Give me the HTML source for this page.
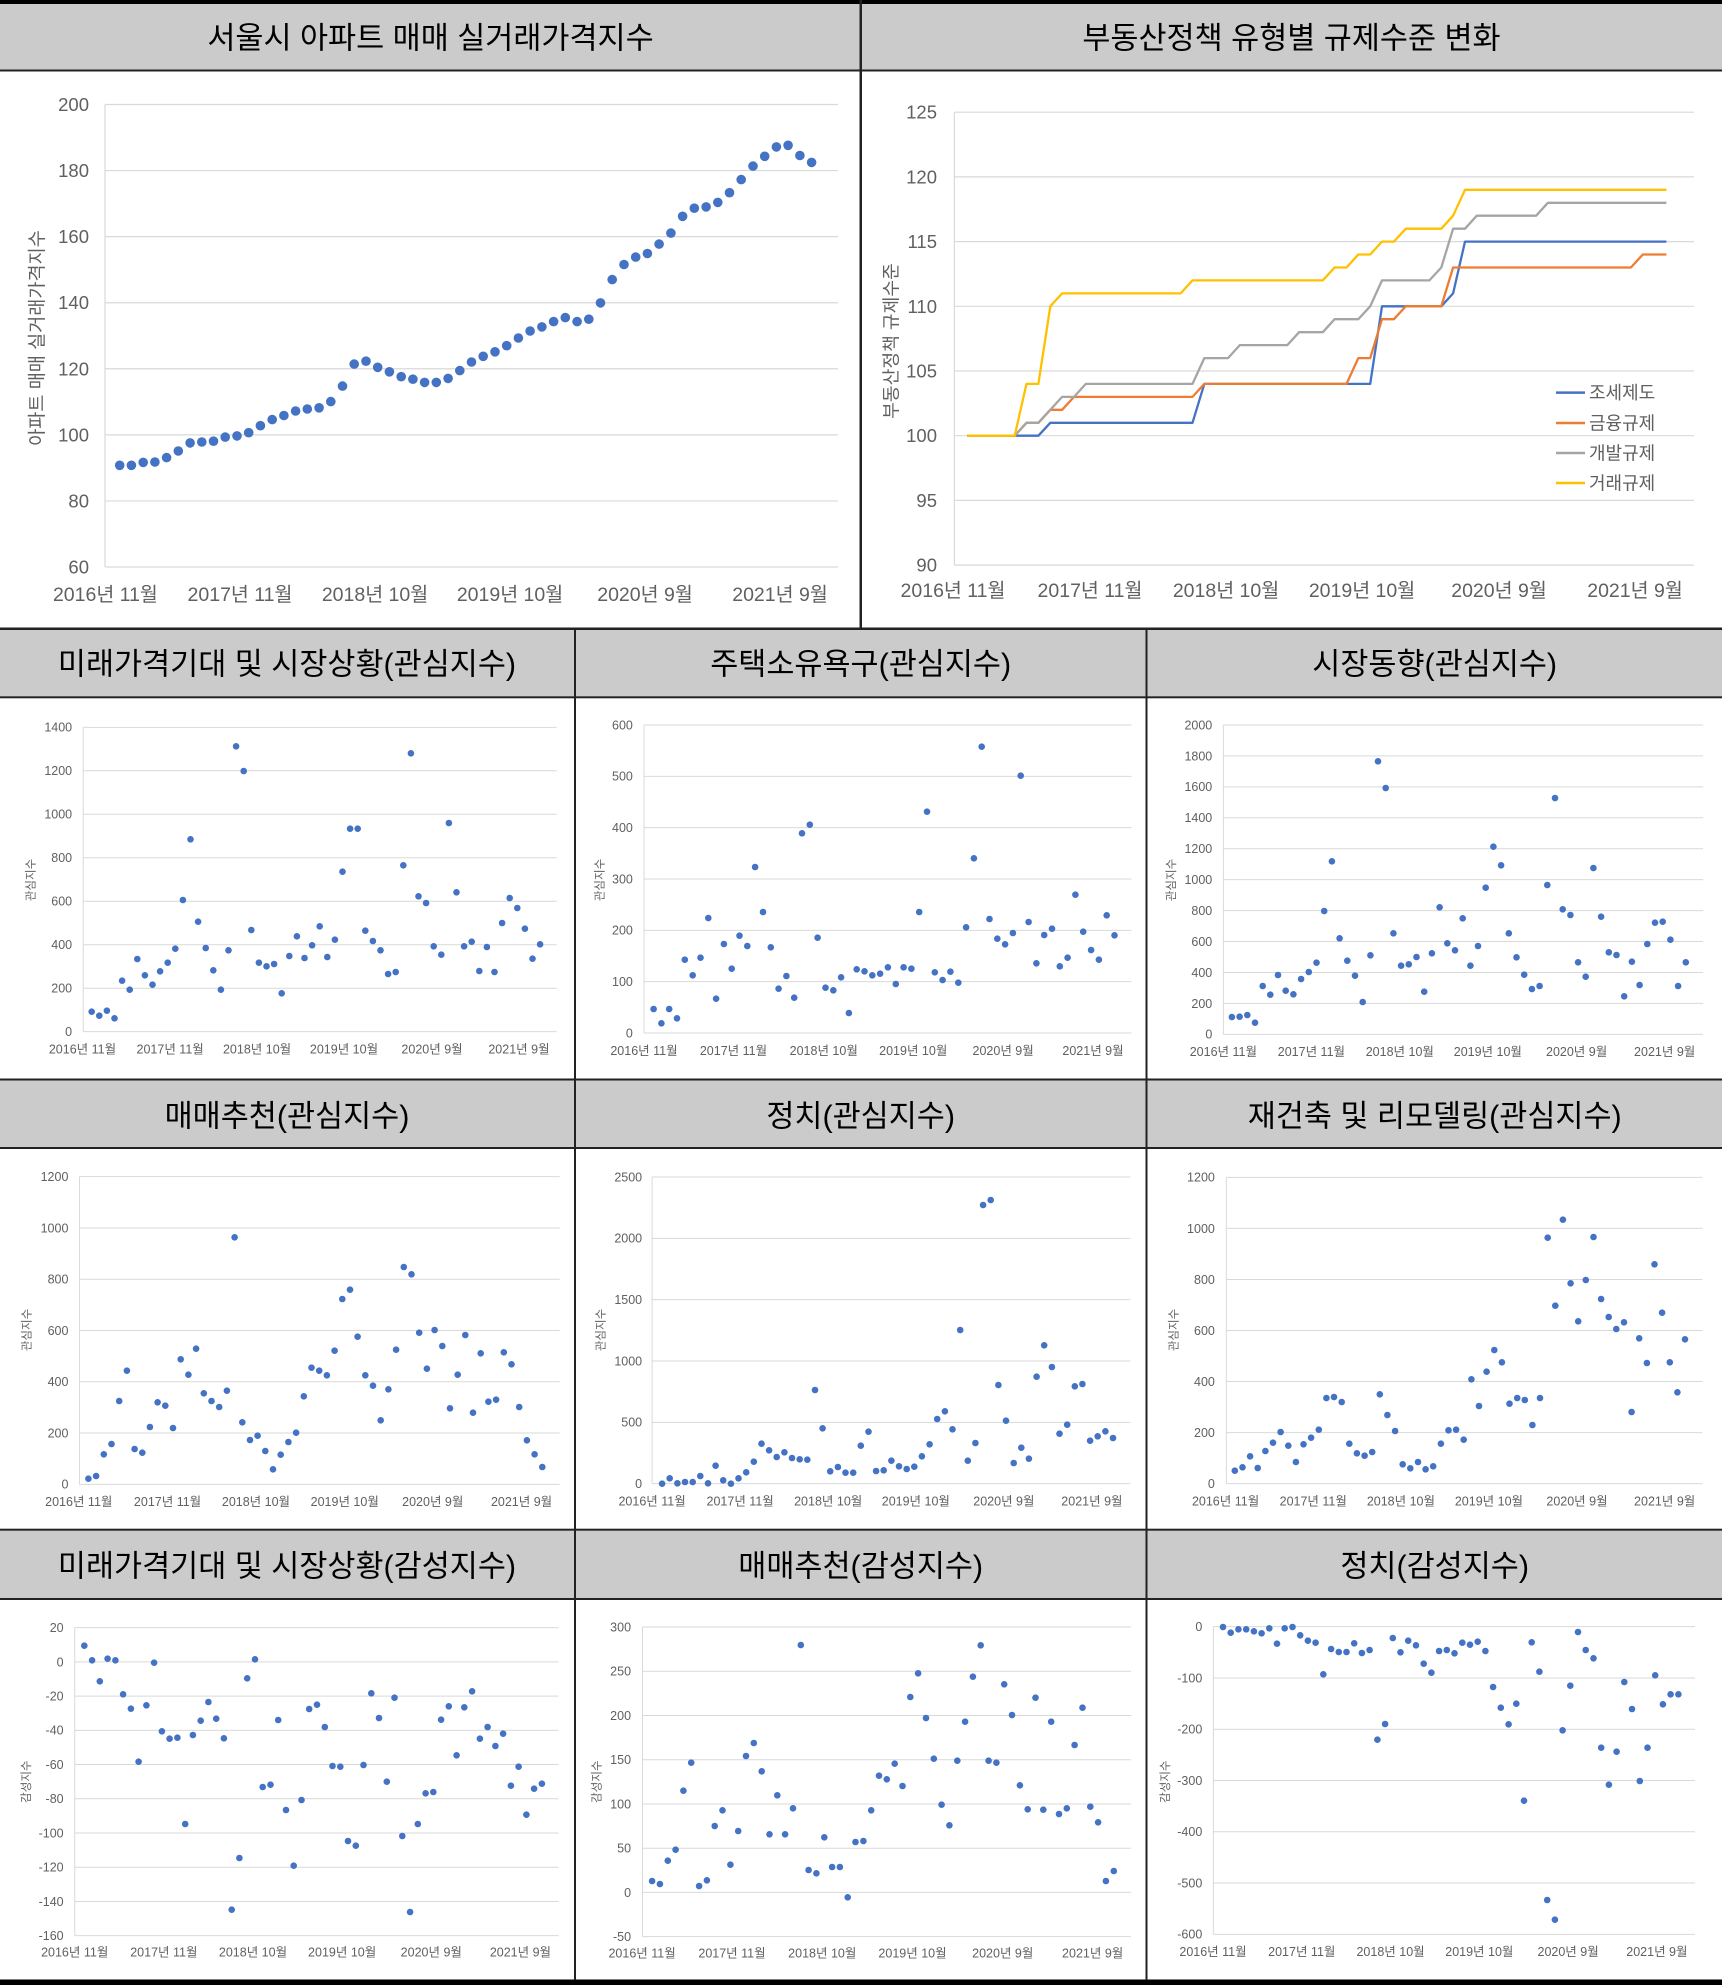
<!DOCTYPE html>
<html><head><meta charset="utf-8">
<style>
html,body{margin:0;padding:0;background:#fff;}
#w{width:1722px;height:1985px;position:relative;overflow:hidden;background:#fff;}
svg text{font-family:"Liberation Sans","Noto Sans CJK KR",sans-serif;}
svg text.t{font-family:"Liberation Sans","Noto Sans CJK KR",sans-serif;}
</style></head>
<body><div id="w"></div>
<script>
const H=[];
function r(x,y,w,h,f){H.push(`<rect x="${x}" y="${y}" width="${w}" height="${h}" fill="${f}"/>`);}
function ln(x1,y1,x2,y2,c,w){H.push(`<line x1="${x1}" y1="${y1}" x2="${x2}" y2="${y2}" stroke="${c}" stroke-width="${w||1}"/>`);}
function tx(x,y,s,size,anchor,fill,cls){H.push(`<text ${cls?'class="'+cls+'"':''} x="${x}" y="${y}" font-size="${size}" text-anchor="${anchor}" fill="${fill}" dy="0.35em">${s}</text>`);}
function rtx(x,y,s,size,fill){H.push(`<text transform="translate(${x},${y}) rotate(-90)" x="0" y="0" font-size="${size}" text-anchor="middle" fill="${fill}" dy="0.35em">${s}</text>`);}
function dot(x,y,rad){H.push(`<circle cx="${x.toFixed(1)}" cy="${y.toFixed(1)}" r="${rad}" fill="#4472C4"/>`);}

const GRID='#d9d9d9', LBL='#606060';
const XL=['2016년 11월','2017년 11월','2018년 10월','2019년 10월','2020년 9월','2021년 9월'];
const TFS=30.5;

/* ---------- frame ---------- */
r(0,4,1722,65.5,'#cbcbcb');
r(0,630,1722,66.3,'#cbcbcb');
r(0,1080.5,1722,66.5,'#cbcbcb');
r(0,1530.7,1722,67.3,'#cbcbcb');

/* ---------- Panel 1 ---------- */
tx(430.5,38,'서울시 아파트 매매 실거래가격지수',TFS,'middle','#000','t');
for(let v=60;v<=200;v+=20){
  const y=567-(v-60)/140*462.5;
  ln(105,y,838,y,GRID,1.2);
  tx(89,y,v,18.5,'end',LBL);
}
ln(105,104.5,105,567,GRID,1.2);
[105.4,240,375,510,645,780].forEach((c,i)=>tx(c,594,XL[i],19.5,'middle',LBL));
rtx(37,338,'아파트 매매 실거래가격지수',18.6,LBL);
const p1=[1140,1140,1133,1132,1121,1105,1085,1083,1081,1071,1068,1060,1043,1028,1018,1007,1002,999,984,946,892,885,900,911,923,929,937,937,927,908,887,873,862,847,828,811,801,788,778,788,782,742,685,648,630,621,598,571,530,510,507,496,472,440,407,383,360,356,381,398];
p1.forEach((d,i)=>dot(119.7+i*(811.6-119.7)/59,d/2.45,4.8));

/* ---------- Panel 2 ---------- */
tx(1291.5,38,'부동산정책 유형별 규제수준 변화',TFS,'middle','#000','t');
const Y2=v=>435.7-(v-100)*12.94;
for(let v=90;v<=125;v+=5){
  const y=Y2(v);
  ln(954.4,y,1694,y,GRID,1.2);
  tx(937,y,v,18.5,'end',LBL);
}
ln(954.4,Y2(125),954.4,Y2(90),GRID,1.2);
[953,1090,1226,1362,1499,1635].forEach((c,i)=>tx(c,590,XL[i],19.5,'middle',LBL));
rtx(891,341,'부동산정책 규제수준',18.2,LBL);
function expand(a){const o=[];a.forEach(([v,n])=>{for(let k=0;k<n;k++)o.push(v);});return o;}
const series=[
 ['#4472C4',[[100,7],[101,13],[104,15],[110,6],[111,1],[115,18]]],
 ['#ED7D31',[[100,5],[101,2],[102,2],[103,11],[104,13],[106,2],[109,2],[110,4],[113,16],[114,3]]],
 ['#A5A5A5',[[100,5],[101,2],[102,1],[103,2],[104,10],[106,3],[107,5],[108,3],[109,3],[110,1],[112,5],[113,1],[116,2],[117,6],[118,11]]],
 ['#FFC000',[[100,5],[104,2],[110,1],[111,11],[112,12],[113,2],[114,2],[115,2],[116,4],[117,1],[119,18]]]
];
series.forEach(([c,rl])=>{
  const v=expand(rl);
  const pts=v.map((val,i)=>(967.3+i*11.85).toFixed(1)+','+Y2(val).toFixed(1)).join(' ');
  H.push(`<polyline points="${pts}" fill="none" stroke="${c}" stroke-width="2.3" stroke-linejoin="round"/>`);
});
const leg=[['#4472C4','조세제도',392.6],['#ED7D31','금융규제',423],['#A5A5A5','개발규제',453],['#FFC000','거래규제',483]];
leg.forEach(([c,s,y])=>{ln(1556,y,1585,y,c,2.5);tx(1589,y,s,18,'start',LBL);});

/* ---------- Small panels ---------- */
const HS=1568/580, VS=3;
function small(P){
  const X=d=>P.ox+d/HS, Y=d=>P.oy+d/VS;
  const n=P.ticks.length-1;
  const axX=X(P.ax), arX=X(P.ar), gt=Y(P.gt), gb=Y(P.gb);
  P.ticks.forEach((t,i)=>{
    const y=gt+(gb-gt)*i/n;
    ln(axX,y,arX,y,GRID,1);
    tx(X(P.lr),y,t,12.5,'end',LBL);
  });
  ln(axX,gt,axX,gb,GRID,1);
  P.xl.forEach((c,i)=>tx(X(c),Y(P.xly),XL[i],12.5,'middle',LBL));
  rtx(X(P.ytx),Y(P.yty),P.yt,11.5,LBL);
  const fx=X(P.fx), lx=X(P.lx);
  P.ys.forEach((d,i)=>dot(fx+i*(lx-fx)/59,Y(d),3.3));
  tx(P.cx,P.ty,P.title,TFS,'middle','#000','t');
}
function T(a,b,s){const o=[];for(let v=a;v>=b;v-=s)o.push(String(v));return o;}
const C=[287,860.7,1434.7];
const panels=[
 {ox:0,oy:625,cx:C[0],ty:664,title:'미래가격기대 및 시장상황(관심지수)',ax:225,ar:1505,gt:307,gb:1220,ticks:T(1400,0,200),lr:195,yt:'관심지수',ytx:83,yty:765,xl:[223,460,695,930,1168,1403],xly:1272,fx:248,lx:1460,
  ys:[1160,1172,1157,1180,1067,1094,1002,1051,1079,1039,1013,971,825,643,890,969,1036,1094,976,364,438,915,1013,1024,1017,1105,993,934,999,961,904,996,944,740,611,611,917,948,976,1047,1041,721,385,814,834,964,989,594,802,964,950,1038,966,1041,894,819,849,911,1001,958]},
 {ox:570,oy:625,cx:C[1],ty:664,title:'주택소유욕구(관심지수)',ax:200,ar:1518,gt:300,gb:1224,ticks:T(600,0,100),lr:170,yt:'관심지수',ytx:80,yty:765,xl:[200,442,686,928,1171,1414],xly:1277,fx:226,lx:1472,
  ys:[1152,1195,1152,1180,1004,1051,998,879,1121,957,1031,932,963,726,861,967,1091,1053,1118,625,599,938,1088,1096,1057,1164,1033,1039,1051,1046,1027,1077,1027,1031,861,560,1042,1065,1040,1073,907,700,365,882,941,958,924,452,891,1015,930,911,1024,998,809,920,975,1004,871,931]},
 {ox:1142,oy:625,cx:C[2],ty:664,title:'시장동향(관심지수)',ax:220,ar:1517,gt:300,gb:1228,ticks:T(2000,0,200),lr:190,yt:'관심지수',ytx:78,yty:765,xl:[220,458,697,935,1175,1413],xly:1280,fx:243,lx:1470,
  ys:[1176,1175,1170,1193,1083,1109,1050,1097,1108,1062,1041,1013,858,709,940,1007,1052,1131,991,409,489,925,1022,1018,996,1100,985,847,955,976,880,1022,963,788,665,721,925,997,1049,1092,1083,780,519,853,870,1012,1055,729,875,982,990,1114,1010,1080,957,893,890,944,1083,1012]},
 {ox:0,oy:1075,cx:C[0],ty:1116,title:'매매추천(관심지수)',ax:215,ar:1513,gt:305,gb:1228,ticks:T(1200,0,200),lr:185,yt:'관심지수',ytx:72,yty:765,xl:[213,453,692,932,1170,1410],xly:1280,fx:239,lx:1466,
  ys:[1211,1203,1138,1107,978,887,1122,1133,1056,982,992,1059,853,899,821,955,978,996,947,487,1042,1095,1082,1128,1183,1139,1101,1073,964,878,887,901,827,672,644,785,901,932,1036,943,824,576,598,773,881,765,813,1000,899,780,1013,835,980,974,832,868,996,1096,1138,1176]},
 {ox:570,oy:1075,cx:C[1],ty:1116,title:'정치(관심지수)',ax:222,ar:1515,gt:306,gb:1226,ticks:T(2500,0,500),lr:195,yt:'관심지수',ytx:82,yty:765,xl:[222,460,698,935,1173,1411],xly:1278,fx:249,lx:1468,
  ys:[1226,1210,1225,1221,1221,1203,1225,1172,1216,1226,1210,1192,1160,1106,1126,1146,1132,1149,1153,1154,945,1060,1189,1176,1193,1193,1112,1070,1188,1186,1157,1174,1182,1175,1144,1108,1032,1009,1063,765,1157,1104,390,375,930,1037,1164,1118,1151,905,811,876,1076,1049,934,927,1097,1084,1069,1089]},
 {ox:1142,oy:1075,cx:C[2],ty:1116,title:'재건축 및 리모델링(관심지수)',ax:228,ar:1515,gt:307,gb:1226,ticks:T(1200,0,200),lr:197,yt:'관심지수',ytx:85,yty:765,xl:[226,463,700,938,1176,1413],xly:1278,fx:251,lx:1468,
  ys:[1187,1177,1144,1179,1128,1103,1071,1112,1161,1108,1088,1064,969,966,981,1106,1135,1142,1131,958,1020,1068,1168,1180,1161,1183,1174,1106,1066,1064,1094,913,993,890,825,862,986,969,975,1050,969,488,692,434,625,739,615,486,672,726,762,742,1011,790,864,568,713,862,952,793]},
 {ox:0,oy:1525,cx:C[0],ty:1566,title:'미래가격기대 및 시장상황(감성지수)',ax:202,ar:1510,gt:308,gb:1232,ticks:T(20,-160,20),lr:172,yt:'감성지수',ytx:70,yty:770,xl:[202,443,684,925,1166,1407],xly:1282,fx:228,lx:1465,
  ys:[362,406,469,401,406,508,551,710,541,413,619,641,638,897,630,587,531,581,640,1154,999,460,403,786,779,585,855,1022,825,552,539,606,723,725,948,962,720,505,579,770,518,933,1161,897,805,801,584,544,691,547,499,641,606,663,626,782,725,869,791,776]},
 {ox:570,oy:1525,cx:C[1],ty:1566,title:'매매추천(감성지수)',ax:196,ar:1517,gt:306,gb:1235,ticks:T(300,-50,50),lr:165,yt:'감성지수',ytx:72,yty:770,xl:[195,438,682,926,1170,1413],xly:1285,fx:222,lx:1470,
  ys:[1068,1077,1007,974,797,713,1083,1066,903,856,1019,918,693,654,739,928,811,928,850,360,1035,1045,937,1026,1026,1117,951,948,856,752,763,716,783,516,445,579,701,839,901,707,590,455,361,707,713,478,570,781,853,518,854,590,867,850,660,548,845,892,1068,1038]},
 {ox:1142,oy:1525,cx:C[2],ty:1566,title:'정치(감성지수)',ax:193,ar:1495,gt:305,gb:1228,ticks:T(0,-600,100),lr:163,yt:'감성지수',ytx:62,yty:770,xl:[192,432,672,912,1152,1392],xly:1280,fx:219,lx:1450,
  ys:[306,323,313,313,319,325,310,356,310,306,331,347,353,448,372,381,381,355,384,375,644,597,339,382,347,361,416,443,378,375,385,353,359,350,378,486,548,598,536,827,352,440,1125,1184,616,482,321,375,400,668,779,680,471,552,768,668,451,538,508,508]}
];
panels.forEach(small);

/* ---------- borders on top ---------- */
r(0,0,1722,4,'#000');
r(0,69.5,1722,2,'#222');
r(0,627.5,1722,2.5,'#222');
r(0,696.3,1722,2,'#222');
r(0,1078.5,1722,2,'#222');
r(0,1147,1722,2,'#222');
r(0,1528.7,1722,2,'#222');
r(0,1598,1722,2,'#222');
r(0,1979.5,1722,5.5,'#000');
r(859.5,0,2.5,629,'#222');
r(574,628,2,1352,'#222');
r(1145.5,628,2,1352,'#222');

document.getElementById('w').innerHTML='<svg xmlns="http://www.w3.org/2000/svg" width="1722" height="1985" viewBox="0 0 1722 1985">'+H.join('')+'</svg>';
</script>
</body></html>
